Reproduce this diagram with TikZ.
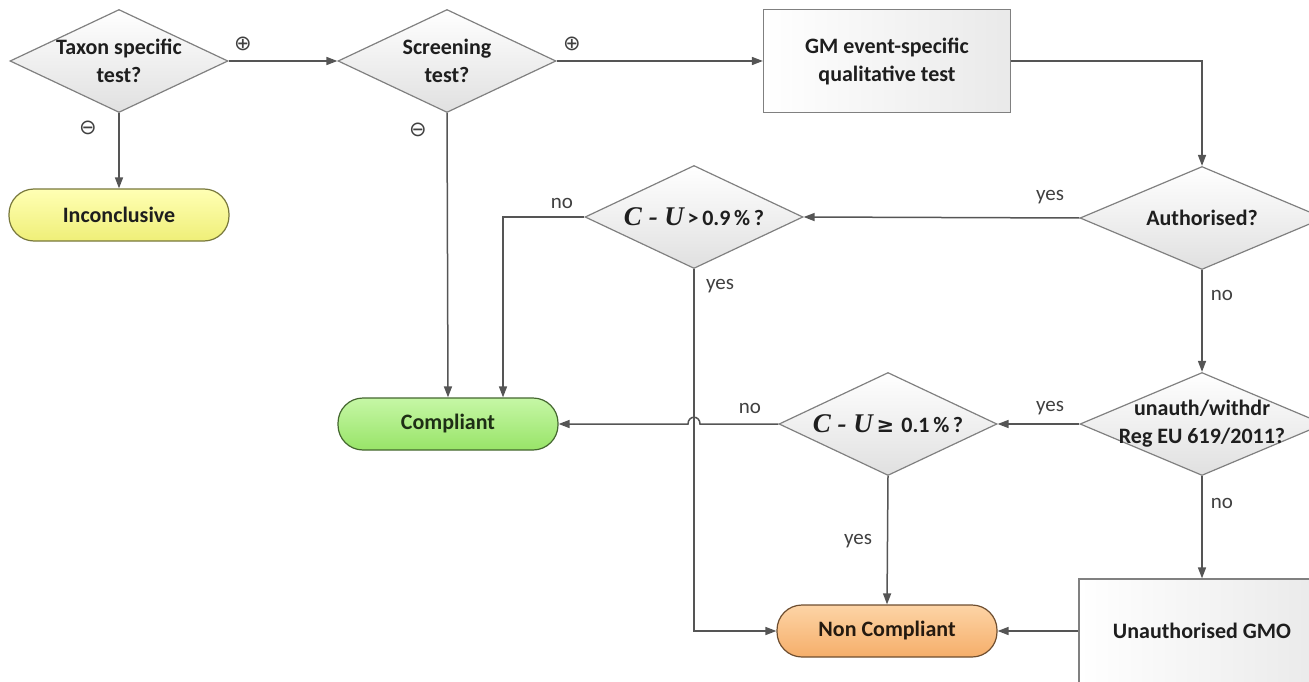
\documentclass[tikz,border=0pt]{standalone}
\usepackage{fontspec}
\setmainfont{Carlito}
\newfontfamily\symfont{DejaVu Sans}
\newfontfamily\cufont{Liberation Serif}
\usetikzlibrary{arrows.meta,calc,shapes.geometric,shadings}
\definecolor{Line}{HTML}{555555}
\definecolor{Edge}{HTML}{808080}
\definecolor{Ink}{HTML}{1E1E1E}
\definecolor{Shade}{HTML}{E0E0E0}
\definecolor{YellowTop}{HTML}{FFFFB4}
\definecolor{YellowBot}{HTML}{EFEF78}
\definecolor{GreenTop}{HTML}{C6F7A6}
\definecolor{GreenBot}{HTML}{98E468}
\definecolor{OrangeTop}{HTML}{FDD4A6}
\definecolor{OrangeBot}{HTML}{F5AE6A}
\newcommand{\cuterm}{{\cufont\bfseries\itshape\fontsize{27}{27}\selectfont C - U}}

\begin{document}
\begin{tikzpicture}[x=1pt,y=-1pt,
    dec/.style={diamond,draw=Edge,line width=1.2pt,top color=white,bottom color=Shade,
      aspect=2.1,inner sep=-4pt,minimum width=218pt,minimum height=103pt,align=center,
      text=Ink,font=\fontsize{22}{28}\selectfont\bfseries},
    proc/.style={rectangle,draw=Edge,line width=1.2pt,left color=white,right color=Shade!70,
      minimum width=247pt,minimum height=103pt,align=center,text=Ink,
      font=\fontsize{22}{28}\selectfont\bfseries},
    term/.style={rectangle,rounded corners=25pt,line width=1.2pt,minimum width=220pt,
      minimum height=52pt,font=\fontsize{22}{24}\selectfont\bfseries},
    flow/.style={-{Triangle[length=11pt,width=8pt]},Line,line width=1.5pt},
    tag/.style={text=Ink!85,font=\fontsize{21}{24}\selectfont},
    sign/.style={text=Ink!85,font=\symfont\fontsize{21}{21}\selectfont}]
  \useasboundingbox(0,0)rectangle(1309,682);

  % decisions and boxes
  \node[dec](taxon)at(119,61){Taxon specific\\test?};
  \node[dec](screen)at(447,61){Screening\\test?};
  \node[proc](gmtest)at(887,61){GM event-specific\\qualitative test};
  \node[dec,minimum width=244pt](auth)at(1202,218){Authorised?};
  \node[dec](cu9)at(694,217){\cuterm\,>\,0.9\,\%\,?};
  \node[dec,minimum width=244pt,inner sep=-9pt,aspect=2.3](unauth)at(1202,424){unauth/withdr\\Reg EU 619/2011?};
  \node[dec](cu1)at(888,424){\cuterm\,{\symfont\fontsize{21}{21}\selectfont≥}\,\,0.1\,\%\,?};
  \node[proc,minimum width=246pt,minimum height=104pt](ugmo)at(1202,631){Unauthorised GMO};

  % outcomes
  \node[term,draw=YellowBot!50!black,top color=YellowTop,bottom color=YellowBot,text=Ink](inconc)at(119,215){Inconclusive};
  \node[term,draw=GreenBot!45!black,top color=GreenTop,bottom color=GreenBot,text=GreenBot!20!black](compl)at(448,424){Compliant};
  \node[term,draw=OrangeBot!45!black,top color=OrangeTop,bottom color=OrangeBot,text=OrangeBot!15!black](noncompl)at(887,631){Non Compliant};

  % connectors
  \draw[flow](taxon.east)--(screen.west);
  \draw[flow](taxon.south)--(inconc.north);
  \draw[flow](screen.east)--(gmtest.west);
  \draw[flow](screen.south)--(compl.north);
  \draw[flow](gmtest.east)-|(auth.north);
  \draw[flow](auth.west)--(cu9.east);
  \draw[flow](auth.south)--(unauth.north);
  \draw[flow](cu9.west)-|($(compl.north)+(55,0)$);
  \draw[flow](cu9.south)|-(noncompl.west);
  \draw[flow](unauth.west)--(cu1.east);
  \draw[flow](cu1.west)--($(cu9.south|-cu1.west)+(6,0)$)
    .. controls +(0,-9) and +(0,-9) .. ($(cu9.south|-cu1.west)+(-6,0)$)--(compl.east);
  \draw[flow](cu1.south)--(noncompl.north);
  \draw[flow](unauth.south)--(ugmo.north);
  \draw[flow](ugmo.west)--(noncompl.east);

  % branch labels
  \node[sign](p1)at(243,44){⊕};
  \node[sign](p2)at(572,44){⊕};
  \node[sign](m1)at(88,128){⊖};
  \node[sign](m2)at(418,130){⊖};
  \node[tag](y1)at(1050,197){yes};
  \node[tag](n1)at(1222,295){no};
  \node[tag](n2)at(562,203){no};
  \node[tag](y2)at(720,286){yes};
  \node[tag](y3)at(1050,408){yes};
  \node[tag](n3)at(750,408){no};
  \node[tag](y4)at(858,541){yes};
  \node[tag](n4)at(1222,503){no};
\end{tikzpicture}
\end{document}
